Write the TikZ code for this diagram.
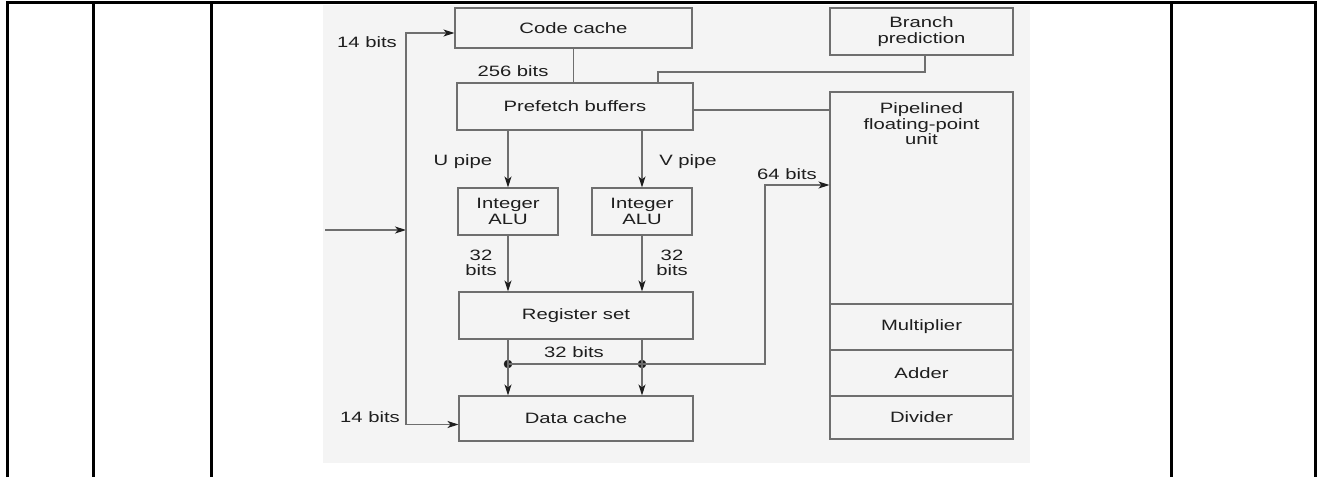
\documentclass[tikz,border=0pt]{standalone}
\usepackage{fontspec}
\newfontfamily\diagfont{Liberation Sans}[FakeStretch=1.35]
\usetikzlibrary{arrows.meta}
\definecolor{ln}{HTML}{6E6E6E}
\definecolor{tx}{HTML}{1E1E1E}
\definecolor{scan}{HTML}{F4F4F4}
\begin{document}
\begin{tikzpicture}[x=1pt,y=-1pt,
  txt/.style={text=tx, font=\diagfont\fontsize{15}{15.5}\selectfont, align=center},
  box/.style={txt, draw=ln, line width=1.1pt, rectangle, inner sep=0pt},
  lbl/.style={txt, inner sep=0pt},
  wire/.style={draw=ln, line width=1.1pt},
  arr/.style={wire, -{Stealth[length=11pt,width=7pt,inset=3pt,color=tx]}},
  jdot/.style={circle, fill=tx, draw=tx, inner sep=0pt, minimum size=8pt},
  frame/.style={line width=3pt, black}
]
\useasboundingbox (0,0) rectangle (1317,477);
\fill[white] (0,0) rectangle (1317,477);
\fill[scan] (323,5) rectangle (1030,463);

% table frame
\draw[frame] (7,477) -- (7,2) -- (1315,2) -- (1315,477);
\draw[frame] (93,2) -- (93,477);
\draw[frame] (211,2) -- (211,477);
\draw[frame] (1171,2) -- (1171,477);

% boxes
\node[box, minimum width=237pt, minimum height=40pt] (codecache) at (573.5,28) {Code cache};
\node[box, minimum width=236pt, minimum height=47pt] (prefetch) at (575,106.5) {Prefetch buffers};
\node[box, minimum width=183pt, minimum height=47pt] (branch) at (921.5,31.5) {Branch\\prediction};
\node[box, minimum width=183pt, minimum height=347pt] (fpu) at (921.5,265.5) {};
\node[lbl] (fputxt) at (921.5,124) {Pipelined\\floating-point\\unit};
\node[box, minimum width=183pt, minimum height=46pt] (mult) at (921.5,327) {Multiplier};
\node[box, minimum width=183pt, minimum height=46pt] (adder) at (921.5,373) {Adder};
\node[box, minimum width=183pt, minimum height=43pt] (divider) at (921.5,417.5) {Divider};
\node[box, minimum width=100pt, minimum height=47pt] (aluL) at (508,211.5) {Integer\\ALU};
\node[box, minimum width=100pt, minimum height=47pt] (aluR) at (642,211.5) {Integer\\ALU};
\node[box, minimum width=234pt, minimum height=47pt] (regset) at (576,315.5) {Register set};
\node[box, minimum width=234pt, minimum height=45pt] (datacache) at (576,418.5) {Data cache};

% labels
\node[lbl] (l14a) at (367,42) {14 bits};
\node[lbl] (l14b) at (370,417) {14 bits};
\node[lbl] (l256) at (513,71) {256 bits};
\node[lbl] (lu) at (463,162) {U pipe};
\node[lbl] (lv) at (688,162) {V pipe};
\node[lbl] (l64) at (787,174) {64 bits};
\node[lbl] (l32a) at (481,263) {32\\bits};
\node[lbl] (l32b) at (672,263) {32\\bits};
\node[lbl] (l32c) at (574,352) {32 bits};

% coordinates
\coordinate (in) at (325,230);
\coordinate (bus) at (406,230);
\coordinate (brk1) at (925,72);
\coordinate (brk2) at (658,72);
\coordinate (yp) at (0,110);
\coordinate (y64) at (0,185);
\coordinate (j64) at (765,364);

% connectors
\draw[arr] (in) -- (bus);
\draw[arr] (bus) |- ([yshift=-5pt]codecache.west);
\draw[arr] (bus) |- ([yshift=-6pt]datacache.west);
\draw[wire] (codecache.south) -- (codecache.south |- prefetch.north);
\draw[wire] (branch.south -| brk1) -- (brk1) -- (brk2) -- (brk2 |- prefetch.north);
\draw[wire] (prefetch.east |- yp) -- (fpu.west |- yp);
\draw[arr] (prefetch.south -| aluL) -- (aluL.north);
\draw[arr] (prefetch.south -| aluR) -- (aluR.north);
\draw[arr] (aluL.south) -- (aluL.south |- regset.north);
\draw[arr] (aluR.south) -- (aluR.south |- regset.north);
\node[jdot] (dL) at (508,364) {};
\node[jdot] (dR) at (642,364) {};
\draw[arr] (regset.south -| dL) -- (datacache.north -| dL);
\draw[arr] (regset.south -| dR) -- (datacache.north -| dR);
\draw[arr] (dL.center) -- (j64) |- (fpu.west |- y64);
\end{tikzpicture}
\end{document}
